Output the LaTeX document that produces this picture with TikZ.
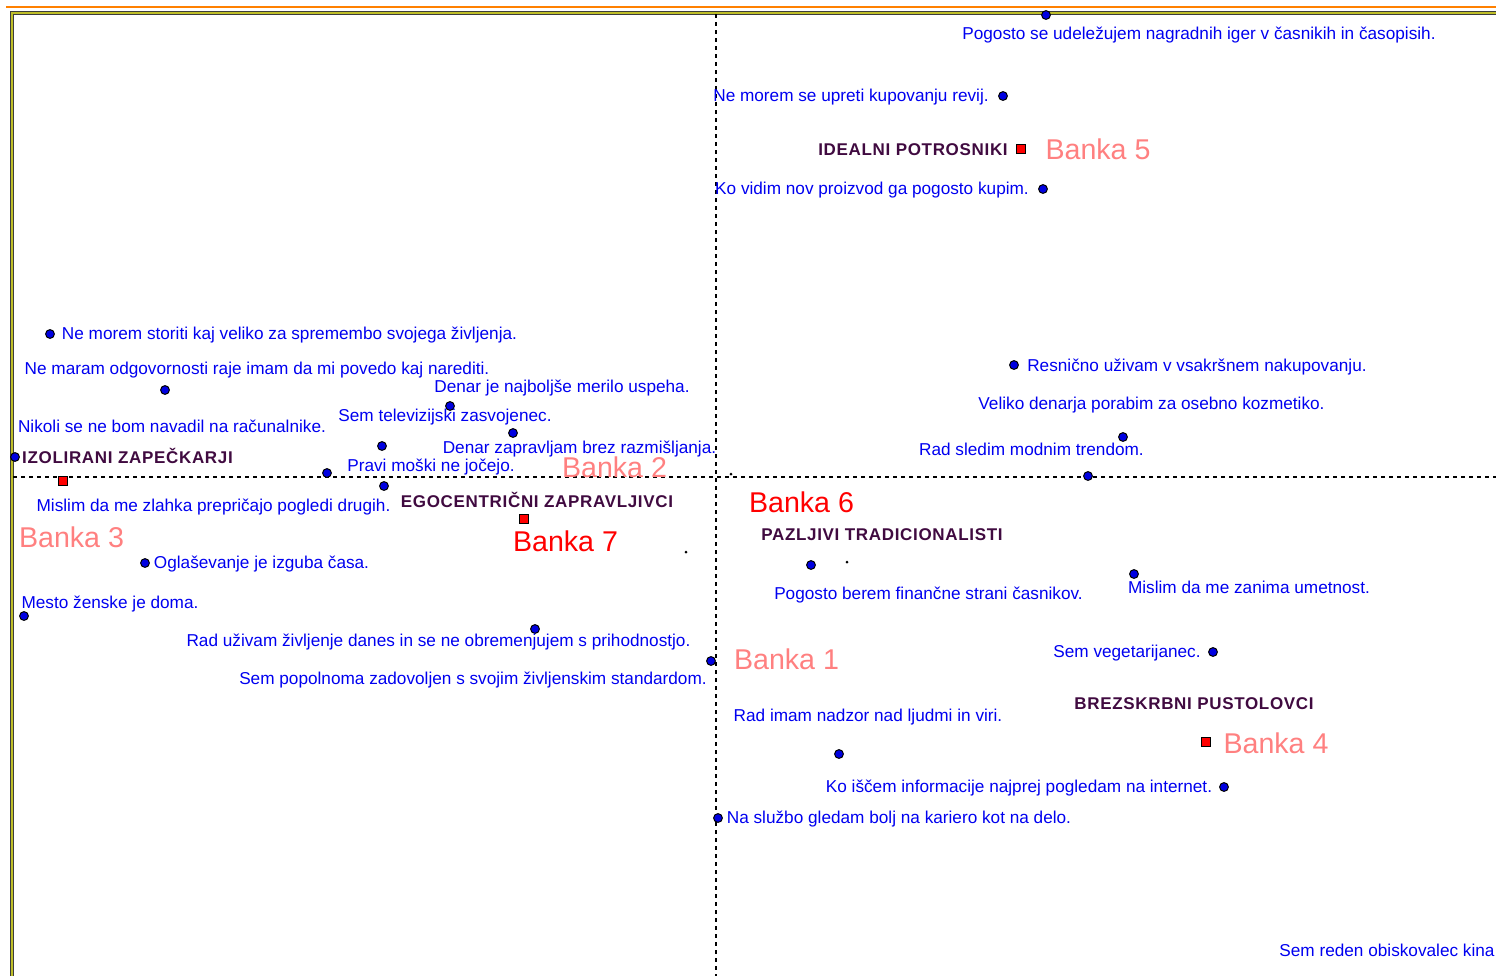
\documentclass[tikz,border=0pt]{standalone}
\usepackage{fontspec}
\setmainfont{Liberation Sans}
\newfontfamily\clfont{Liberation Sans}[LetterSpace=4]
\definecolor{txtblue}{RGB}{0,0,240}
\definecolor{dotblue}{RGB}{0,0,225}
\definecolor{clpurple}{RGB}{64,10,64}
\definecolor{bankpink}{RGB}{255,128,128}
\definecolor{bankred}{RGB}{255,0,0}
\definecolor{framegray}{RGB}{60,60,60}
\definecolor{frameolive}{RGB}{190,190,40}
\definecolor{topline}{RGB}{255,128,0}
\begin{document}
\begin{tikzpicture}[x=0.5pt,y=-0.5pt,
  txt/.style={text=txtblue,font=\fontsize{8.6}{10}\selectfont,inner sep=0pt,yshift=-1pt},
  clus/.style={text=clpurple,font=\clfont\bfseries\fontsize{8.5}{10}\selectfont,inner sep=0pt,yshift=-0.5pt},
  bank/.style={text=bankpink,font=\fontsize{14.3}{16}\selectfont,inner sep=0pt},
  bankr/.style={text=bankred,font=\fontsize{14.3}{16}\selectfont,inner sep=0pt},
  pt/.style={circle,fill=dotblue,draw=black,line width=0.5pt,minimum size=4.4pt,inner sep=0pt},
  sq/.style={rectangle,fill=bankred,draw=black,line width=0.6pt,minimum size=4.2pt,inner sep=0pt},
  tiny/.style={circle,fill=black,minimum size=1.5pt,inner sep=0pt},
  axis/.style={black,line width=0.6pt,dash pattern=on 2.2pt off 1.8pt}]
\useasboundingbox (0,0) rectangle (1496,976);
% frame
\draw[topline,line width=1pt] (6,7) -- (1496,7);
\draw[framegray,line width=1.8pt] (1496,13) -- (12,13) -- (12,976);
\draw[frameolive,line width=0.7pt] (1496,13) -- (12,13) -- (12,976);
% axes
\coordinate (vtop) at (716,14);
\coordinate (vbot) at (716,976);
\coordinate (hl) at (13,477);
\coordinate (hr) at (1496,477);
\draw[axis] (vtop) -- (vbot);
\draw[axis] (hl) -- (hr);

% upper right quadrant
\node[pt] (p1) at (1046,15) {};
\node[txt] (t1) at (1199,33) {Pogosto se udeležujem nagradnih iger v časnikih in časopisih.};
\node[txt] (t2) at (851,95) {Ne morem se upreti kupovanju revij.};
\node[pt] (p2) at (1003,96) {};
\node[clus] (c1) at (913,149) {IDEALNI POTROSNIKI};
\node[sq] (s5) at (1021,149) {};
\node[bank] (b5) at (1098,149) {Banka 5};
\node[txt] (t3) at (872,188) {Ko vidim nov proizvod ga pogosto kupim.};
\node[pt] (p3) at (1043,189) {};
\node[pt] (p16) at (1014,365) {};
\node[txt] (t16) at (1197,365) {Resnično uživam v vsakršnem nakupovanju.};
\node[txt] (t17) at (1151.5,403) {Veliko denarja porabim za osebno kozmetiko.};
\node[txt] (t18) at (1031.5,447) {Rad sledim modnim trendom.};
\node[pt] (p18) at (1123,437) {};
\node[pt] (p19) at (1088,476) {};

% upper left quadrant
\node[pt] (p4) at (50,334) {};
\node[txt] (t4) at (289.5,333) {Ne morem storiti kaj veliko za spremembo svojega življenja.};
\node[txt] (t5) at (257,368) {Ne maram odgovornosti raje imam da mi povedo kaj narediti.};
\node[pt] (p5) at (165,390) {};
\node[txt] (t6) at (562,386) {Denar je najboljše merilo uspeha.};
\node[pt] (p6) at (450,406) {};
\node[txt] (t7) at (445,415) {Sem televizijski zasvojenec.};
\node[txt] (t8) at (172,424) {Nikoli se ne bom navadil na računalnike.};
\node[pt] (p7) at (513,433) {};
\node[pt] (p8) at (382,446) {};
\node[txt] (t9) at (579.5,447) {Denar zapravljam brez razmišljanja.};
\node[pt] (p9) at (15,457) {};
\node[clus] (c2) at (127.5,455) {IZOLIRANI ZAPEČKARJI};
\node[txt] (t10) at (431,465) {Pravi moški ne jočejo.};
\node[bank] (b2) at (614.5,467) {Banka 2};
\node[pt] (p10) at (327,473) {};
\node[tiny] (d3) at (731,474) {};

% lower left quadrant
\node[sq] (s3) at (63,481) {};
\node[pt] (p11) at (384,486) {};
\node[txt] (t11) at (213.5,505) {Mislim da me zlahka prepričajo pogledi drugih.};
\node[clus] (c3) at (537,499) {EGOCENTRIČNI ZAPRAVLJIVCI};
\node[sq] (s7) at (524,519) {};
\node[bank] (b3) at (71.5,537) {Banka 3};
\node[bankr] (b7) at (565.5,541) {Banka 7};
\node[tiny] (d1) at (686,552) {};
\node[pt] (p12) at (145,563) {};
\node[txt] (t12) at (261.5,562) {Oglaševanje je izguba časa.};
\node[txt] (t13) at (110,602) {Mesto ženske je doma.};
\node[pt] (p13) at (24,616) {};
\node[pt] (p14) at (535,629) {};
\node[txt] (t14) at (438.5,640) {Rad uživam življenje danes in se ne obremenjujem s prihodnostjo.};
\node[pt] (p15) at (711,661) {};
\node[txt] (t15) at (473,678) {Sem popolnoma zadovoljen s svojim življenskim standardom.};

% lower right quadrant
\node[bankr] (b6) at (801.5,502) {Banka 6};
\node[clus] (c4) at (882,534) {PAZLJIVI TRADICIONALISTI};
\node[pt] (p20) at (811,565) {};
\node[tiny] (d2) at (847,562) {};
\node[txt] (t19) at (928.5,593) {Pogosto berem finančne strani časnikov.};
\node[pt] (p21) at (1134,574) {};
\node[txt] (t20) at (1249,585) {Mislim da me zanima umetnost.};
\node[bank] (b1) at (786.5,659) {Banka 1};
\node[txt] (t21) at (1127,651) {Sem vegetarijanec.};
\node[pt] (p22) at (1213,652) {};
\node[clus] (c5) at (1194,703) {BREZSKRBNI PUSTOLOVCI};
\node[txt] (t22) at (868,715) {Rad imam nadzor nad ljudmi in viri.};
\node[sq] (s4) at (1206,742) {};
\node[bank] (b4) at (1276,743) {Banka 4};
\node[pt] (p23) at (839,754) {};
\node[txt] (t23) at (1019,786) {Ko iščem informacije najprej pogledam na internet.};
\node[pt] (p24) at (1224,787) {};
\node[pt] (p25) at (718,818) {};
\node[txt] (t24) at (899,817) {Na službo gledam bolj na kariero kot na delo.};
\node[txt] (t25) at (1387,948) {Sem reden obiskovalec kina};
\end{tikzpicture}
\end{document}
